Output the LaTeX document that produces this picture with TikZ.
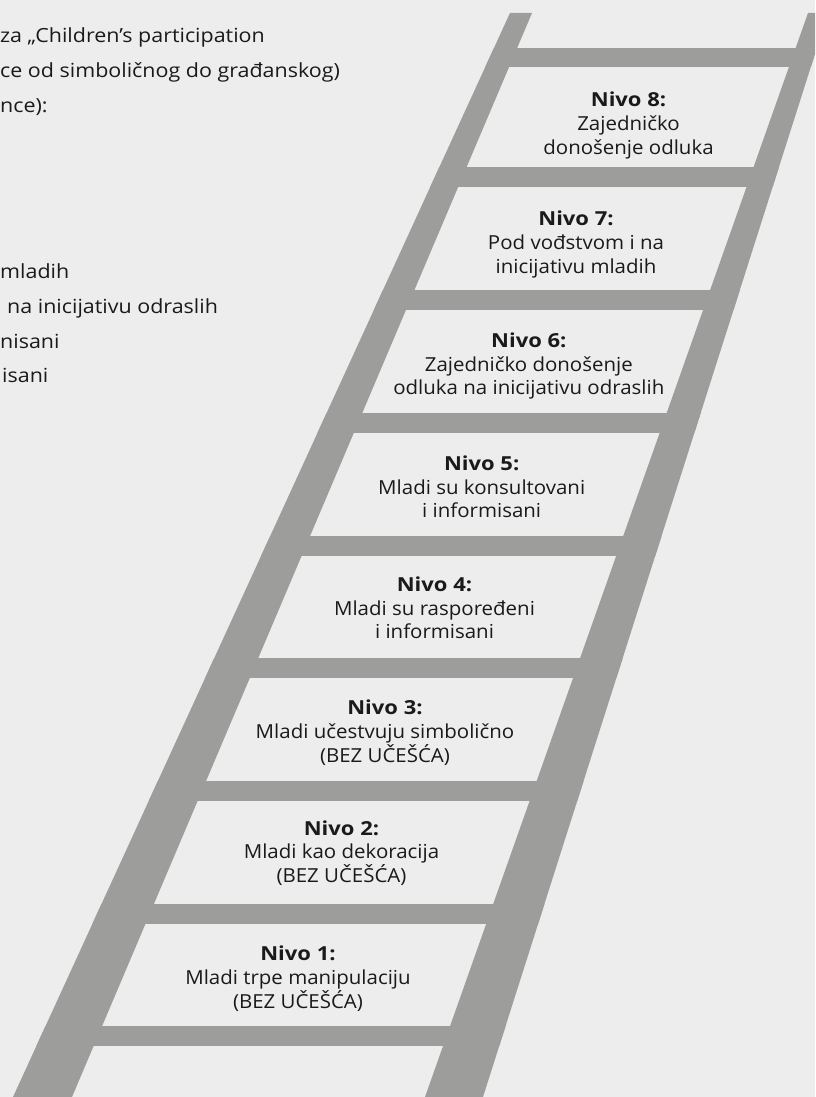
\documentclass[tikz,border=0pt]{standalone}
\usepackage{fontspec}
\setmainfont[FakeStretch=1.06, BoldFeatures={FakeStretch=1.14}]{Open Sans}
\newfontfamily\introfont[FakeStretch=1.1]{Open Sans}
\usepackage{xcolor}
\definecolor{PageBg}{HTML}{EDEDED}
\definecolor{LadderGrey}{HTML}{9D9D9C}
\definecolor{TextDark}{HTML}{1A1A1A}

\begin{document}
\begin{tikzpicture}[x=1pt, y=-1pt, every node/.style={font=\fontsize{19.3}{23.7}\selectfont, text=TextDark, inner sep=0pt}, level/.style={align=center, anchor=north}, intro/.style={anchor=base west, font=\introfont\fontsize{19.5}{23.7}\selectfont}]
    \useasboundingbox (0,0) rectangle (815,1097);
    \fill[PageBg] (0,0) rectangle (815,1097);

    % ladder
    \begin{scope}
      \clip (0,0) rectangle (815,1097);
      \fill[LadderGrey] (510,13) -- (532,13) -- (72,1097) -- (13,1097) -- cycle;
      \fill[LadderGrey] (808,13) -- (828,13) -- (483,1097) -- (425,1097) -- cycle;
      \clip (510,13) -- (828,13) -- (483,1097) -- (13,1097) -- cycle;
      \foreach \top in {48,167,290,413,536,658,781,904,1026}
        \fill[LadderGrey] (0,\top) rectangle (815,\top+19.5);
    \end{scope}

    % text cut off at the left edge
    \node[intro] (intro1) at (0,42.7) {za „Children’s participation};
    \node[intro] (intro2) at (0,77.3) {ce od simboličnog do građanskog)};
    \node[intro] (intro3) at (0,112.7) {nce):};
    \node[intro] (intro4) at (0,278) {mladih};
    \node[intro] (intro5) at (7,313) {na inicijativu odraslih};
    \node[intro] (intro6) at (0,348) {nisani};
    \node[intro] (intro7) at (2,382) {isani};

    % levels
    \node[level] (lvl8) at (628.5,92) {\textbf{Nivo 8:}\\Zajedničko\\donošenje odluka};
    \node[level] (lvl7) at (576,211) {\textbf{Nivo 7:}\\Pod vođstvom i na\\inicijativu mladih};
    \node[level] (lvl6) at (528.8,332.5) {\textbf{Nivo 6:}\\Zajedničko donošenje\\odluka na inicijativu odraslih};
    \node[level] (lvl5) at (481.7,455.5) {\textbf{Nivo 5:}\\Mladi su konsultovani\\i informisani};
    \node[level] (lvl4) at (434.5,576.7) {\textbf{Nivo 4:}\\Mladi su raspoređeni\\i informisani};
    \node[level] (lvl3) at (385,700) {\textbf{Nivo 3:}\\Mladi učestvuju simbolično\\(BEZ UČEŠĆA)};
    \node[level] (lvl2) at (341.5,820.3) {\textbf{Nivo 2:}\\Mladi kao dekoracija\\(BEZ UČEŠĆA)};
    \node[level] (lvl1) at (298,946) {\textbf{Nivo 1:}\\Mladi trpe manipulaciju\\(BEZ UČEŠĆA)};
  \end{tikzpicture}
\end{document}
